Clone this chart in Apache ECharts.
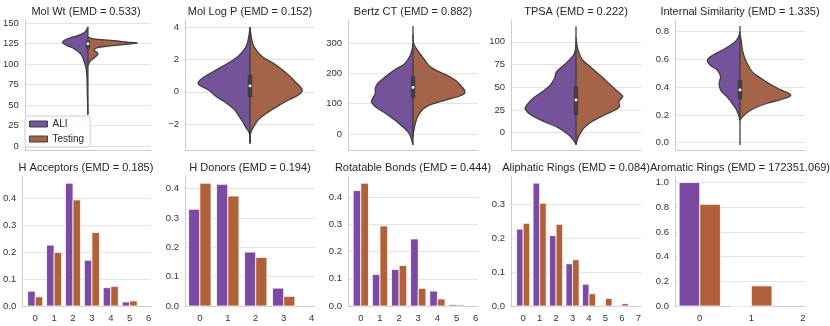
<!DOCTYPE html>
<html>
<head>
<meta charset="utf-8">
<script src="https://cdn.jsdelivr.net/npm/echarts@6/dist/echarts.min.js"></script>
<style>
  html, body { margin: 0; padding: 0; background: #fff; }
  #main { width: 830px; height: 326px; }
</style>
</head>
<body>
<div id="main"></div>
<script>
var FONT = '"Liberation Sans", Arial, sans-serif';
var PURPLE = '#74539b', BROWN = '#a5644a';
var BAR_PURPLE = '#7b4aa3', BAR_BROWN = '#b1603a';
var EDGE = '#3f3f3f';

// titles
var violinTitles = ['Mol Wt (EMD = 0.533)', 'Mol Log P (EMD = 0.152)', 'Bertz CT (EMD = 0.882)',
  'TPSA (EMD = 0.222)', 'Internal Similarity (EMD = 1.335)'];
var barTitles = ['H Acceptors (EMD = 0.185)', 'H Donors (EMD = 0.194)', 'Rotatable Bonds (EMD = 0.444)',
  'Aliphatic Rings (EMD = 0.084)', 'Aromatic Rings (EMD = 172351.069)'];

// violin half profiles: [value, half width], read top -> bottom
var molWtALI = [[145,0],[139,0.025],[135,0.08],[131,0.16],[127,0.2],[123,0.17],[119,0.11],[113,0.06],[107,0.038],[101,0.025],[95,0.015],[85,0.008],[60,0.004],[38,0]];
var molWtTest = [[133,0],[131,0.04],[129,0.18],[127,0.31],[125.8,0.39],[124,0.28],[122,0.16],[120,0.07],[117,0.05],[113,0.08],[109,0.06],[105,0.025],[101,0.008],[98,0]];
var logPALI = [[4.0,0],[3.4,0.01],[2.8,0.03],[2.2,0.09],[1.77,0.17],[1.36,0.26],[0.94,0.35],[0.64,0.395],[0.43,0.39],[0.12,0.32],[-0.29,0.26],[-0.7,0.18],[-1.1,0.12],[-1.5,0.085],[-1.93,0.05],[-2.24,0.03],[-2.55,0.005],[-3.2,0]];
var logPTest = [[4.0,0],[3.4,0.01],[2.8,0.03],[2.2,0.09],[1.77,0.18],[1.36,0.25],[0.94,0.31],[0.53,0.36],[0.23,0.395],[0.02,0.4],[-0.18,0.375],[-0.49,0.3],[-0.9,0.21],[-1.3,0.13],[-1.72,0.065],[-2.13,0.03],[-2.55,0.005],[-3.2,0]];
var bertzALI = [[300,0],[283,0.005],[261,0.02],[234,0.06],[212,0.14],[190,0.21],[168,0.27],[151,0.29],[134,0.29],[118,0.31],[107,0.32],[90,0.29],[68,0.21],[46,0.14],[24,0.08],[2,0.03],[-20,0.01],[-36,0]];
var bertzTest = [[330,0],[300,0.005],[283,0.025],[267,0.05],[245,0.09],[223,0.13],[206,0.2],[190,0.28],[173,0.34],[154,0.38],[140,0.4],[129,0.38],[112,0.25],[96,0.13],[79,0.07],[57,0.035],[35,0.018],[8,0.005],[-10,0]];
var tpsaALI = [[100,0],[91,0.005],[85,0.02],[76,0.08],[67,0.15],[60,0.165],[52,0.2],[45,0.26],[38,0.33],[30,0.38],[26,0.39],[19,0.34],[12,0.24],[5,0.13],[-2.6,0.055],[-8,0.02],[-12.5,0]];
var tpsaTest = [[105,0],[94.5,0.01],[87,0.025],[80,0.05],[72.5,0.11],[65,0.17],[58,0.225],[50.5,0.28],[43,0.34],[40,0.36],[34,0.33],[29,0.335],[25,0.3],[19,0.21],[12,0.12],[5,0.06],[-2.6,0.025],[-10,0.005],[-13,0]];
var simALI = [[0.8,0],[0.765,0.01],[0.73,0.035],[0.68,0.11],[0.63,0.21],[0.596,0.25],[0.56,0.23],[0.524,0.175],[0.476,0.15],[0.428,0.16],[0.38,0.15],[0.33,0.1],[0.284,0.06],[0.236,0.026],[0.19,0.008],[0.163,0]];
var simTest = [[0.78,0],[0.73,0.01],[0.67,0.018],[0.61,0.036],[0.56,0.062],[0.51,0.095],[0.464,0.16],[0.416,0.24],[0.38,0.315],[0.344,0.39],[0.32,0.35],[0.284,0.21],[0.248,0.11],[0.21,0.045],[0.175,0.01],[0.16,0]];

// inner box stats: [whisker low, q1, median, q3, whisker high]
var molWtBox = [38, 119, 125, 129, 146];
var logPBox = [-3.2, -0.33, 0.37, 1.05, 4.0];
var bertzBox = [-36, 118, 154, 190, 357];
var tpsaBox = [-13.5, 19.4, 36, 51, 117];
var simBox = [-0.017, 0.3125, 0.38, 0.452, 0.84];

// violin y ticks and ranges
var molWtTicks = [0, 25, 50, 75, 100, 125, 150];
var logPTicks = [-2, 0, 2, 4];
var bertzTicks = [0, 100, 200, 300];
var tpsaTicks = [0, 25, 50, 75, 100];
var simTicks = [0, 0.2, 0.4, 0.6, 0.8];
var violinRanges = [[-5, 154], [-3.6, 4.45], [-53, 377], [-19, 124], [-0.053, 0.884]];

// bar data
var hAccCats = [0, 1, 2, 3, 4, 5];
var hAccALI = [0.055, 0.226, 0.456, 0.17, 0.068, 0.015];
var hAccTest = [0.034, 0.199, 0.394, 0.273, 0.073, 0.019];
var hDonCats = [0, 1, 2, 3];
var hDonALI = [0.33, 0.415, 0.184, 0.061];
var hDonTest = [0.419, 0.375, 0.166, 0.033];
var rotCats = [0, 1, 2, 3, 4, 5];
var rotALI = [0.425, 0.116, 0.135, 0.247, 0.055, 0.005];
var rotTest = [0.452, 0.295, 0.149, 0.065, 0.026, 0.004];
var aliCats = [0, 1, 2, 3, 4, 5, 6];
var aliALI = [0.226, 0.361, 0.207, 0.124, 0.064, 0.002, 0.002];
var aliTest = [0.243, 0.302, 0.24, 0.136, 0.036, 0.022, 0.007];
var aroCats = [0, 1];
var aroALI = [1.0, 0];
var aroTest = [0.824, 0.163];

var hAccXTicks = [0, 1, 2, 3, 4, 5, 6];
var hDonXTicks = [0, 1, 2, 3, 4];
var rotXTicks = [0, 1, 2, 3, 4, 5, 6];
var aliXTicks = [0, 1, 2, 3, 4, 5, 6, 7];
var aroXTicks = [0, 1, 2];
var hAccYTicks = [0, 0.1, 0.2, 0.3, 0.4];
var hDonYTicks = [0, 0.1, 0.2, 0.3, 0.4];
var rotYTicks = [0, 0.1, 0.2, 0.3, 0.4];
var aliYTicks = [0, 0.1, 0.2, 0.3];
var aroYTicks = [0, 0.2, 0.4, 0.6, 0.8, 1.0];
var barXRanges = [[-0.69, 6.13], [-0.53, 4.12], [-0.67, 6.12], [-0.74, 7.16], [-0.48, 2.04]];
var barYMax = [0.479, 0.44, 0.475, 0.379, 1.045];

var violins = [
  [molWtALI, molWtTest, molWtBox, molWtTicks],
  [logPALI, logPTest, logPBox, logPTicks],
  [bertzALI, bertzTest, bertzBox, bertzTicks],
  [tpsaALI, tpsaTest, tpsaBox, tpsaTicks],
  [simALI, simTest, simBox, simTicks]
];
var bars = [
  [hAccCats, hAccALI, hAccTest, hAccXTicks, hAccYTicks],
  [hDonCats, hDonALI, hDonTest, hDonXTicks, hDonYTicks],
  [rotCats, rotALI, rotTest, rotXTicks, rotYTicks],
  [aliCats, aliALI, aliTest, aliXTicks, aliYTicks],
  [aroCats, aroALI, aroTest, aroXTicks, aroYTicks]
];

var lefts = [21, 185, 348, 511, 675];
var W = 130;
var grids = [], xAxes = [], yAxes = [], series = [], graphics = [];

function labelStyle(ticks, fmt, margin) {
  return { customValues: ticks, formatter: fmt, fontSize: 9.5, color: '#333', margin: margin, fontFamily: FONT };
}
function fmtNum(v) { return String(v).replace('-', '\u2212'); }
function fmt1(v) { return v.toFixed(1); }

// top row: split violins
violins.forEach(function (v, i) {
  grids.push({ left: lefts[i], top: 20, width: W, height: 130 });
  xAxes.push({
    gridIndex: i, type: 'value', min: -0.5, max: 0.5,
    axisLine: { show: true, onZero: false, lineStyle: { color: '#cccccc' } },
    axisTick: { show: false }, axisLabel: { show: false }, splitLine: { show: false }
  });
  yAxes.push({
    gridIndex: i, type: 'value', min: violinRanges[i][0], max: violinRanges[i][1],
    axisLine: { show: true, onZero: false, lineStyle: { color: '#cccccc' } },
    axisTick: { show: false, customValues: v[3] },
    axisLabel: labelStyle(v[3], i === 4 ? fmt1 : fmtNum, 6),
    splitLine: { show: true, lineStyle: { color: '#e3e3e3' } }
  });
  [[v[0], -1, PURPLE, 'ALI'], [v[1], 1, BROWN, 'Testing']].forEach(function (h) {
    series.push({
      type: 'custom', name: h[3], xAxisIndex: i, yAxisIndex: i, data: [0],
      itemStyle: { color: h[2] }, silent: true,
      renderItem: function (params, api) {
        var pts = h[0].map(function (p) { return api.coord([h[1] * p[1], p[0]]); });
        return {
          type: 'polyline', shape: { points: pts, smooth: 0.35 },
          style: { fill: h[2], stroke: EDGE, lineWidth: 1.3 }
        };
      }
    });
  });
  series.push({
    type: 'custom', name: 'box', xAxisIndex: i, yAxisIndex: i, data: [v[2]], silent: true,
    renderItem: function (params, api) {
      var lo = api.coord([0, api.value(0)]), q1 = api.coord([0, api.value(1)]),
          md = api.coord([0, api.value(2)]), q3 = api.coord([0, api.value(3)]),
          hi = api.coord([0, api.value(4)]);
      return {
        type: 'group', children: [
          { type: 'line', shape: { x1: lo[0], y1: lo[1], x2: hi[0], y2: hi[1] }, style: { stroke: EDGE, lineWidth: 1.3 } },
          { type: 'rect', shape: { x: q3[0] - 2.2, y: q3[1], width: 4.4, height: q1[1] - q3[1] }, style: { fill: EDGE } },
          { type: 'circle', shape: { cx: md[0], cy: md[1], r: 1.4 }, style: { fill: '#ffffff' } }
        ]
      };
    }
  });
  graphics.push({
    type: 'text', x: lefts[i] + W / 2, y: 12,
    style: { text: violinTitles[i], fontSize: 11, fontFamily: FONT, fill: '#262626',
      textAlign: 'center', textVerticalAlign: 'middle', align: 'center', verticalAlign: 'middle' }
  });
});

// bottom row: grouped bars
bars.forEach(function (b, j) {
  var i = j + 5;
  grids.push({ left: lefts[j], top: 177, width: W, height: 129 });
  xAxes.push({
    gridIndex: i, type: 'value', min: barXRanges[j][0], max: barXRanges[j][1],
    axisLine: { show: true, onZero: false, lineStyle: { color: '#cccccc' } },
    axisTick: { show: false, customValues: b[3] },
    axisLabel: labelStyle(b[3], fmtNum, 7),
    splitLine: { show: false }
  });
  yAxes.push({
    gridIndex: i, type: 'value', min: 0, max: barYMax[j],
    axisLine: { show: true, onZero: false, lineStyle: { color: '#cccccc' } },
    axisTick: { show: false, customValues: b[4] },
    axisLabel: labelStyle(b[4], fmt1, 6),
    splitLine: { show: true, lineStyle: { color: '#e3e3e3' } }
  });
  [[b[1], -0.2, BAR_PURPLE, 'ALI'], [b[2], 0.2, BAR_BROWN, 'Testing']].forEach(function (s) {
    series.push({
      type: 'custom', name: s[3], xAxisIndex: i, yAxisIndex: i, silent: true,
      itemStyle: { color: s[2] },
      data: b[0].map(function (c, k) { return [c, s[0][k]]; }),
      renderItem: function (params, api) {
        var x = api.value(0), y = api.value(1);
        var a = api.coord([x + s[1] - 0.2, y]);
        var c = api.coord([x + s[1] + 0.2, 0]);
        return {
          type: 'rect', shape: { x: a[0], y: a[1], width: c[0] - a[0], height: c[1] - a[1] },
          style: { fill: s[2], stroke: '#ffffff', lineWidth: 0.8 }
        };
      }
    });
  });
  graphics.push({
    type: 'text', x: lefts[j] + W / 2, y: 168,
    style: { text: barTitles[j], fontSize: 11, fontFamily: FONT, fill: '#262626',
      textAlign: 'center', textVerticalAlign: 'middle', align: 'center', verticalAlign: 'middle' }
  });
});

var myChart = echarts.init(document.getElementById('main'));
myChart.setOption({
  animation: false,
  backgroundColor: '#ffffff',
  grid: grids,
  xAxis: xAxes,
  yAxis: yAxes,
  legend: {
    data: [{ name: 'ALI', itemStyle: { color: PURPLE } }, { name: 'Testing', itemStyle: { color: BROWN } }],
    orient: 'vertical', left: 25, top: 116, icon: 'rect',
    itemWidth: 18, itemHeight: 6, itemGap: 5,
    backgroundColor: 'rgba(255,255,255,0.9)', borderColor: '#cccccc', borderWidth: 1, borderRadius: 3,
    padding: [3, 6, 3, 4],
    textStyle: { fontSize: 10, color: '#262626', fontFamily: FONT },
    itemStyle: { borderColor: EDGE, borderWidth: 1 }
  },
  graphic: graphics,
  series: series
});
</script>
</body>
</html>
